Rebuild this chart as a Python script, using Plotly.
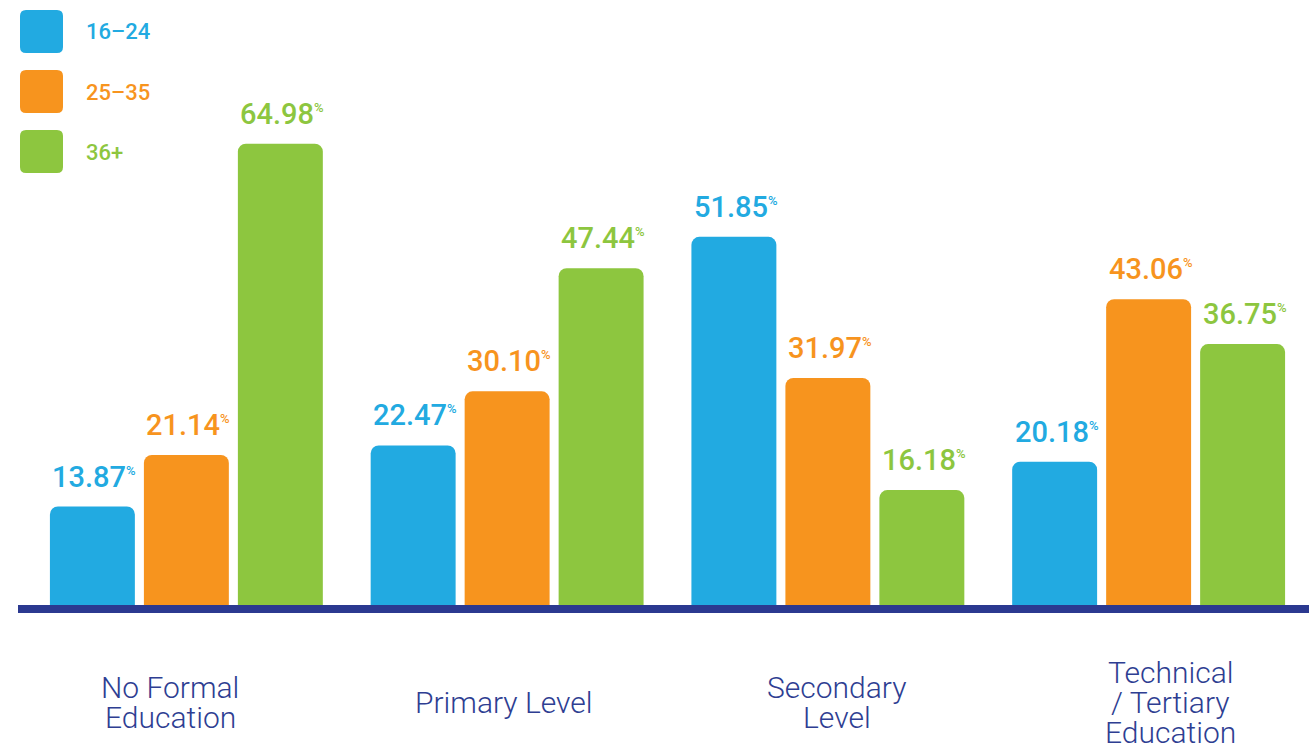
import plotly.graph_objects as go

categories = ["No Formal<br>Education", "Primary Level", "Secondary<br>Level",
              "Technical<br>/ Tertiary<br>Education"]
series_names = ["16\u201324", "25\u201335", "36+"]
values_16_24 = [13.87, 22.47, 51.85, 20.18]
values_25_35 = [21.14, 30.10, 31.97, 43.06]
values_36_plus = [64.98, 47.44, 16.18, 36.75]
series_values = [values_16_24, values_25_35, values_36_plus]
colors = ["#22aae1", "#f7941e", "#8dc63f"]
navy = "#2e3e92"

W, H = 1309, 747
ML, MR, MT, MB = 26, 0, 37, 142
PW, PH = W - ML - MR, H - MT - MB
YMAX = 80
NUM_SIZE = 29

def px_x(x):
    return (x - ML) / PW

def px_y(y):
    return (H - MB - y) / PH

def rounded_rect(x0, y0, x1, y1, r):
    X0, X1 = px_x(x0), px_x(x1)
    Y0, Y1 = px_y(y0), px_y(y1)
    rx, ry = r / PW, r / PH
    return (f"M {X0+rx},{Y0} L {X1-rx},{Y0} Q {X1},{Y0} {X1},{Y0-ry} "
            f"L {X1},{Y1+ry} Q {X1},{Y1} {X1-rx},{Y1} L {X0+rx},{Y1} "
            f"Q {X0},{Y1} {X0},{Y1+ry} L {X0},{Y0-ry} Q {X0},{Y0} {X0+rx},{Y0} Z")

fig = go.Figure()
for name, vals, col in zip(series_names, series_values, colors):
    fig.add_trace(go.Bar(x=categories, y=vals, name=name, marker=dict(color=col, line=dict(width=0)),
                         showlegend=False, hoverinfo="skip"))

slot = PW / len(categories) * (1 - 0.121) / 3
annotations = []
for i, (vals, col) in enumerate(zip(series_values, colors)):
    for cat, v in zip(categories, vals):
        annotations.append(dict(
            x=cat, y=v, xref="x", yref="y", xshift=(i - 1) * slot + 2, yshift=11,
            yanchor="bottom", xanchor="center", showarrow=False,
            text=f"{v:.2f}<sup><span style='font-size:13px'>%</span></sup>",
            font=dict(family="Roboto", size=NUM_SIZE, color=col, weight=500)))

label_xshift = [-16, -3, 9, 22]
for cat, dx in zip(categories, label_xshift):
    lines = cat.split("<br>")
    n = len(lines)
    for k, line in enumerate(lines):
        cy = 703 + (k - (n - 1) / 2) * 30
        annotations.append(dict(
            x=cat, y=0, xref="x", yref="y", xshift=dx, yshift=-(cy - (H - MB)) + 1,
            yanchor="middle", xanchor="center", showarrow=False, text=line,
            font=dict(family="Roboto", size=30, color=navy, weight=300)))

shapes = []
for i, (name, col) in enumerate(zip(series_names, colors)):
    top = 10 + i * 60
    shapes.append(dict(type="path", xref="paper", yref="paper",
                       path=rounded_rect(20, top, 63, top + 43, 6),
                       fillcolor=col, line=dict(width=0)))
    annotations.append(dict(x=px_x(84), y=px_y(top + 22), xref="paper", yref="paper",
                            xanchor="left", yanchor="middle", showarrow=False, text=name,
                            font=dict(family="Roboto", size=22, color=col, weight=500)))

shapes.append(dict(type="line", xref="paper", yref="paper", x0=px_x(18), x1=1.0,
                   y0=px_y(609), y1=px_y(609), line=dict(color="#2b3990", width=8)))

fig.update_layout(
    width=W, height=H, margin=dict(l=ML, r=MR, t=MT, b=MB),
    plot_bgcolor="white", paper_bgcolor="white",
    barmode="group", bargap=0.121, bargroupgap=0.096, barcornerradius=8,
    xaxis=dict(type="category", range=[-0.5, 3.5], showticklabels=False, showgrid=False,
               zeroline=False, showline=False, ticks=""),
    yaxis=dict(range=[0, YMAX], visible=False, showgrid=False, zeroline=False),
    annotations=annotations, shapes=shapes,
)

fig.write_html("out.html", config={"displayModeBar": False},
               post_script="document.body.style.margin='0px';document.body.style.overflow='hidden';")
